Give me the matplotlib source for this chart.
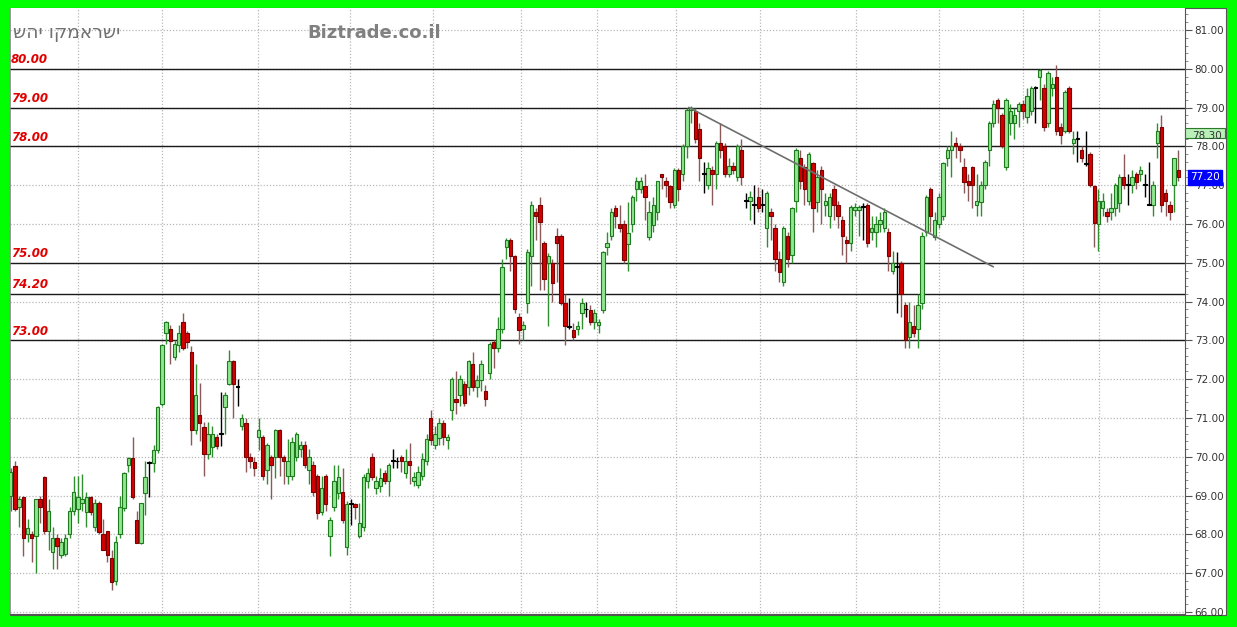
import numpy as np
import matplotlib.pyplot as plt
import matplotlib.transforms as mtransforms
from matplotlib.patches import Rectangle
from matplotlib.ticker import MultipleLocator, FormatStrFormatter

# daily candles (oldest first)
opens = [
    69.0, 69.75, 68.7, 68.97, 68.0, 68.0, 67.96, 68.9, 69.48, 68.1,
    67.55, 67.9, 67.47, 67.5, 68.0, 68.6, 68.65, 68.8, 68.57, 68.97,
    68.2, 68.8, 68.0, 68.08, 67.4, 66.8, 68.0, 68.68, 69.8, 69.97,
    68.37, 67.78, 69.07, 69.85, 69.84, 70.17, 71.36, 73.19, 73.3, 72.57,
    72.88, 73.47, 73.2, 72.7, 70.7, 71.08, 70.77,
    70.07, 70.26, 70.5, 70.6, 71.28, 71.88, 72.47, 71.82, 70.8, 70.87,
    70.0, 69.87, 70.5, 70.5, 69.66, 70.0, 70.0, 70.7, 70.0, 69.5,
    69.5, 70.0, 70.2, 70.3, 69.66, 69.8, 69.5, 68.58, 69.5, 67.96,
    68.7, 69.07, 69.1, 67.67, 68.8, 68.78, 67.96, 68.2, 69.38, 70.0,
    69.2, 69.25, 69.58, 69.38, 69.92, 69.88, 70.0, 69.58, 69.9, 69.38,
    69.28, 69.5, 69.9,
    71.0, 70.3, 70.48, 70.87, 70.43, 71.2, 71.5, 71.6, 71.88, 71.8,
    72.4, 71.8, 71.97, 71.7, 72.16, 72.96, 72.8, 73.3, 75.4, 75.6,
    75.17, 73.6, 73.3, 73.96, 75.17, 76.3, 76.5, 75.5, 75.0, 75.0,
    75.7, 75.7, 73.96, 73.35, 73.27, 73.3, 73.7, 73.82, 73.78, 73.47,
    73.4, 73.78,
    75.4, 75.7, 76.4, 76.0, 76.0, 75.48, 76.0, 76.9, 76.9, 76.98,
    75.67, 75.98, 76.3, 77.28, 77.1, 76.98, 76.5, 77.4, 77.3, 78.0,
    78.95, 78.9, 78.45, 77.32, 77.0, 77.4, 77.3, 78.1, 78.0, 77.3,
    77.5, 77.2, 77.9, 76.62, 76.6, 76.52, 76.7, 76.52, 75.9, 76.3,
    75.9, 75.1, 74.5, 75.7, 75.2, 76.6,
    77.7, 77.47, 76.6, 77.57, 76.56, 77.4, 76.5, 76.2, 76.9, 76.5,
    76.1, 75.6, 75.5, 76.35, 76.35, 76.47, 76.5, 75.8, 75.8, 76.0,
    75.9, 75.8, 74.8, 74.92, 75.0, 73.9, 73.08, 73.37, 73.3, 73.96,
    75.8, 76.9, 75.67, 76.0, 76.2, 77.7, 77.9, 78.1, 78.0, 77.47,
    77.1, 77.47, 76.5, 76.56, 77.0, 77.9,
    78.6, 79.2, 78.8, 77.47, 78.6, 78.6, 78.9, 79.1, 78.77, 78.9,
    79.52, 79.8, 79.5, 78.6, 79.5, 79.8, 78.5, 78.4, 79.5, 78.1,
    78.22, 77.9, 77.57, 77.8, 76.98, 76.0, 76.4, 76.3, 76.3, 76.4,
    76.55, 77.2, 77.02, 77.0, 77.3, 77.3, 77.02, 76.52, 76.5, 78.1,
    78.5, 76.8, 76.5, 77.0, 77.4,
]
highs = [
    69.7, 69.9, 69.0, 69.0, 68.4, 68.1, 68.9, 69.0, 69.5, 68.9,
    68.2, 68.0, 67.9, 68.0, 68.7, 69.5, 69.5, 69.55, 69.1, 69.0,
    68.9, 68.85, 68.4, 68.1, 67.6, 67.95, 69.0, 69.6, 70.0, 70.5,
    68.6, 68.8, 69.9, 69.9, 70.3, 71.3, 72.9, 73.5, 73.4, 73.0,
    73.4, 73.7, 73.25, 72.85, 72.4, 71.9, 70.9,
    70.9, 70.8, 70.6, 71.67, 71.67, 72.75, 72.5, 72.0, 71.1, 71.0,
    70.1, 70.0, 71.0, 70.55, 70.35, 70.05, 70.72, 70.72, 70.05, 70.45,
    70.5, 70.65, 70.4, 70.4, 70.2, 69.9, 69.55, 69.5, 69.55, 68.45,
    69.8, 69.8, 69.7, 68.85, 68.9, 68.8, 68.8, 69.55, 69.7, 70.1,
    69.5, 69.7, 69.65, 69.85, 70.2, 70.0, 70.05, 70.2, 70.35, 69.6,
    69.75, 70.1, 70.6,
    71.2, 70.8, 71.0, 70.95, 70.6, 72.05, 72.2, 72.1, 71.95, 72.5,
    72.7, 72.1, 72.5, 71.85, 72.95, 73.0, 73.6, 75.1, 75.65, 75.65,
    75.2, 73.7, 73.5, 75.35, 76.6, 76.4, 76.7, 75.55, 75.25, 75.1,
    75.9, 75.75, 74.2, 74.1, 73.45, 73.5, 74.1, 74.0, 73.9, 73.8,
    73.55, 75.3,
    75.8, 76.4, 76.5, 76.5, 76.1, 76.57, 76.75, 77.2, 77.2, 77.3,
    76.6, 76.7, 77.1, 77.3, 77.2, 77.0, 77.45, 77.45, 78.05, 79.0,
    79.05, 79.0, 78.6, 77.6, 77.6, 77.5, 78.15, 78.6, 78.1, 77.7,
    77.6, 78.05, 78.2, 76.8, 76.85, 77.0, 76.95, 76.9, 76.85, 76.4,
    76.0, 75.3, 75.95, 75.8, 76.45, 77.95,
    77.9, 77.55, 77.85, 77.6, 77.4, 77.5, 76.8, 76.8, 77.0, 76.6,
    76.2, 75.7, 76.5, 76.55, 76.5, 76.55, 76.55, 76.2, 76.2, 76.3,
    76.4, 75.9, 75.3, 75.28, 75.05, 74.0, 74.0, 73.9, 74.2, 75.8,
    76.75, 76.95, 76.3, 76.8, 77.6, 78.0, 78.4, 78.25, 78.1, 77.7,
    77.3, 77.5, 77.3, 77.1, 77.65, 78.65,
    79.2, 79.25, 78.85, 79.25, 79.1, 79.0, 79.15, 79.2, 79.5, 79.55,
    79.55, 80.0, 79.6, 79.95, 79.8, 80.1, 78.6, 79.45, 79.55, 78.4,
    78.4, 78.0, 78.4, 77.85, 77.0, 76.9, 76.8, 76.4, 76.8, 77.05,
    77.3, 77.8, 77.3, 77.4, 77.35, 77.5, 77.3, 77.6, 77.1, 78.6,
    78.8, 76.9, 76.6, 77.7, 77.9,
]
lows = [
    68.6, 68.6, 68.2, 67.45, 67.8, 67.3, 67.0, 68.3, 68.0, 67.6,
    67.1, 67.1, 67.4, 67.45, 67.9, 68.5, 68.3, 68.6, 68.2, 68.5,
    68.1, 68.0, 67.6, 67.3, 66.57, 66.7, 67.9, 68.6, 69.6, 68.9,
    67.78, 67.75, 68.5, 68.97, 69.6, 70.1, 71.3, 72.9, 72.4, 72.5,
    72.7, 72.75, 72.8, 70.3, 70.6, 70.4, 69.5,
    69.95, 70.0, 70.2, 70.28, 70.6, 71.85, 71.0, 71.3, 70.7, 69.6,
    69.7, 69.5, 70.17, 69.4, 69.3, 68.9, 69.45, 69.5, 69.3, 69.3,
    69.4, 69.9, 70.0, 69.7, 69.3, 69.0, 68.4, 68.5, 68.6, 67.45,
    68.6, 68.9, 68.3, 67.47, 68.25, 68.4, 67.9, 68.1, 69.2, 69.4,
    69.05, 69.1, 69.3, 69.0, 69.7, 69.7, 69.6, 69.45, 69.3, 69.25,
    69.2, 69.4, 69.8,
    70.3, 70.2, 70.3, 70.3, 70.2, 70.95, 71.1, 71.3, 71.3, 71.6,
    71.7, 71.55, 71.7, 71.3, 72.0, 72.3, 72.7, 73.2, 75.1, 74.8,
    73.7, 72.9, 73.0, 73.7, 74.4, 75.6, 74.3, 74.3, 73.37, 74.0,
    74.5, 73.9, 72.88, 73.3, 73.0, 73.15, 73.3, 73.6, 73.4, 73.3,
    73.2, 73.7,
    75.2, 75.6, 75.9, 75.8, 75.0, 74.8, 75.8, 76.6, 76.8, 76.1,
    75.6, 75.8, 76.1, 76.9, 76.7, 76.4, 76.4, 76.6, 77.1, 77.7,
    78.6, 78.1, 77.1, 76.8, 76.9, 76.5, 76.9, 77.7, 77.2, 77.2,
    77.3, 77.1, 77.0, 76.4, 76.1, 76.0, 76.3, 76.3, 75.4, 75.6,
    74.8, 74.5, 74.4, 74.9, 75.0, 76.3,
    76.9, 76.5, 76.5, 75.8, 76.3, 76.0, 76.2, 75.9, 76.1, 75.9,
    75.2, 75.0, 75.3, 76.2, 75.7, 75.6, 75.4, 75.6, 75.4, 75.8,
    75.8, 74.8, 74.7, 73.7, 73.6, 72.8, 72.8, 73.1, 72.8, 73.8,
    75.7, 75.8, 75.6, 75.9, 76.1, 77.5, 77.2, 77.7, 77.6, 76.8,
    76.6, 76.4, 76.2, 76.2, 76.9, 77.5,
    78.5, 78.6, 77.95, 77.4, 78.3, 78.2, 78.5, 78.7, 78.6, 78.8,
    78.6, 79.2, 78.4, 78.5, 79.3, 78.3, 78.05, 78.35, 78.35, 77.8,
    77.6, 77.6, 77.5, 76.95, 75.4, 75.3, 76.2, 76.05, 76.1, 76.2,
    76.3, 76.9, 76.5, 76.8, 76.9, 77.1, 76.7, 76.5, 76.2, 77.7,
    76.3, 76.2, 76.1, 76.3, 77.1,
]
closes = [
    69.6, 68.65, 68.9, 67.9, 68.17, 67.9, 68.9, 68.7, 68.08, 68.6,
    67.9, 67.7, 67.8, 67.9, 68.6, 69.1, 68.97, 68.9, 68.97, 68.57,
    68.8, 68.06, 67.6, 67.47, 66.77, 67.8, 68.7, 69.58, 69.97, 68.97,
    67.78, 68.8, 69.48, 69.87, 70.17, 71.28, 72.88, 73.47, 72.98, 72.9,
    73.2, 72.8, 72.96, 70.7, 71.6, 70.87, 70.07,
    70.6, 70.6, 70.28, 70.62, 71.6, 72.47, 71.88, 71.8, 71.0, 70.0,
    69.9, 69.7, 70.7, 69.5, 70.3, 69.8, 70.7, 70.0, 69.9, 69.9,
    70.38, 70.6, 70.3, 69.8, 70.0, 69.1, 68.55, 69.2, 68.78, 68.37,
    69.38, 69.48, 68.37, 68.78, 68.78, 68.7, 68.3, 69.48, 69.58, 69.48,
    69.38, 69.45, 69.38, 69.8, 69.9, 69.9, 69.9, 69.9, 69.8, 69.48,
    69.6, 69.95, 70.45,
    70.43, 70.6, 70.87, 70.5, 70.5, 72.0, 71.4, 72.0, 71.38, 72.47,
    71.8, 71.97, 72.4, 71.5, 72.9, 72.8, 73.3, 74.9, 75.6, 75.17,
    73.8, 73.27, 73.4, 75.28, 76.5, 76.2, 76.05, 74.58, 75.17, 74.48,
    75.5, 73.96, 73.37, 73.37, 73.1, 73.37, 73.96, 73.8, 73.47, 73.7,
    73.47, 75.28,
    75.5, 76.3, 76.2, 75.9, 75.07, 75.77, 76.7, 77.1, 77.1, 76.7,
    76.3, 76.5, 77.1, 77.2, 77.0, 76.57, 77.4, 76.9, 78.0, 78.94,
    79.0, 78.2, 77.7, 77.3, 77.45, 77.3, 78.1, 77.9, 77.3, 77.5,
    77.4, 78.0, 77.2, 76.6, 76.7, 76.5, 76.4, 76.5, 76.8, 76.2,
    75.1, 74.77, 75.9, 75.1, 76.4, 77.9,
    77.1, 76.9, 77.8, 76.4, 77.2, 76.9, 76.6, 76.7, 76.5, 76.2,
    75.7, 75.5, 76.45, 76.45, 76.45, 76.45, 75.5, 75.9, 76.0, 76.1,
    76.3, 75.17, 75.0, 74.9, 74.2, 73.0, 73.47, 73.2, 73.9, 75.7,
    76.7, 76.2, 76.1, 76.7, 77.57, 77.9, 78.0, 78.0, 77.9, 77.08,
    77.0, 77.0, 76.6, 77.0, 77.6, 78.6,
    79.1, 79.0, 78.0, 79.2, 78.9, 78.8, 79.1, 78.9, 79.3, 79.5,
    79.5, 79.97, 78.5, 79.9, 79.6, 78.4, 78.3, 79.4, 78.4, 78.2,
    78.2, 77.7, 77.55, 77.0, 76.03, 76.6, 76.6, 76.2, 76.4, 77.0,
    77.2, 77.0, 77.0, 77.2, 77.08, 77.4, 77.0, 76.5, 77.0, 78.4,
    76.5, 76.6, 76.3, 77.7, 77.2,
]

levels = [80.0, 79.0, 78.0, 75.0, 74.2, 73.0]
month_starts = [16.0, 36.0, 58.9, 80.8, 100.5, 121.4, 139.6, 158.4, 178.4, 201.3, 221.1, 241.1, 259.1]
trend_x = [161.5, 233.9]
trend_y = [79.0, 74.9]
ma_value = 78.35
ma_text = "78.30"
title_he = "ישראמקו יהש"
site = "Biztrade.co.il"

o = np.array(opens)
h = np.array(highs)
l = np.array(lows)
c = np.array(closes)
x = np.arange(len(o))

W, H = 1237, 627
fig = plt.figure(figsize=(W / 100, H / 100), dpi=100)
fig.patch.set_facecolor('#00FF00')
fig.add_artist(Rectangle((10 / W, 1 - 615 / H), 1216 / W, 607 / H,
                         transform=fig.transFigure, facecolor='white',
                         edgecolor='#555555', lw=0.8, zorder=0))

ax = fig.add_axes([10 / W, 1 - 614 / H, 1175 / W, 606 / H])
ax.set_facecolor('white')
ax.set_xlim(-0.17, 279.6)
ax.set_ylim(65.948, 81.567)

# grid
ax.set_yticks(np.arange(66, 82, 1))
ax.yaxis.set_minor_locator(MultipleLocator(0.2))
ax.yaxis.set_major_formatter(FormatStrFormatter('%.2f'))
ax.set_xticks(month_starts)
ax.grid(True, which='major', ls=(0, (1, 1.5)), color='#b8b8b8', lw=0.9, zorder=0)
ax.yaxis.tick_right()
ax.tick_params(axis='y', which='major', length=5, width=0.8, colors='#555555',
               labelcolor='#333333', labelsize=7.5, pad=2)
ax.tick_params(axis='y', which='minor', length=2.5, width=0.6, colors='#777777')
ax.tick_params(axis='x', length=0, labelbottom=False)
ax.spines['top'].set_visible(False)
ax.spines['left'].set_color('#888888')
ax.spines['left'].set_linewidth(0.6)
ax.spines['right'].set_color('#555555')
ax.spines['bottom'].set_color('#555555')

# support / resistance lines
lab_tr = mtransforms.blended_transform_factory(ax.transAxes, ax.transData)
for v in levels:
    ax.axhline(v, color='#1a1a1a', lw=1.0, zorder=2)
    ax.text(0.001, v + 0.23, f"{v:.2f}", transform=lab_tr, color='#e00000',
            fontsize=8.5, fontweight='bold', fontstyle='italic', va='center', ha='left', zorder=6)

# candles
up = c - o >= 0.03
down = o - c >= 0.03
doji = ~(up | down)
wick_col = np.where(up, '#2f8f2f', np.where(down, '#8a5a5a', '#000000'))
ax.vlines(x, l, h, colors=wick_col, lw=1.0, zorder=3)
bottom = np.minimum(o, c)
height = np.maximum(np.abs(c - o), 0.02)
ax.bar(x[up], height[up], bottom=bottom[up], width=0.8, color='#8fe88f',
       edgecolor='#1f7a1f', lw=0.8, zorder=4)
ax.bar(x[down], height[down], bottom=bottom[down], width=0.8, color='#d40000',
       edgecolor='#7a0000', lw=0.8, zorder=4)
ax.bar(x[doji], height[doji], bottom=bottom[doji], width=0.9, color='#000000',
       edgecolor='#000000', lw=0.8, zorder=4)

# trend line
ax.plot(trend_x, trend_y, color='#6e6e6e', lw=1.2, zorder=5)

# price markers on the scale
box = Rectangle((1.0, ma_value - 0.13), 0.034, 0.26, transform=lab_tr,
                facecolor='#b8f0b8', edgecolor='#2a7a2a', lw=0.8, clip_on=False, zorder=7)
ax.add_patch(box)
t = ax.text(1.006, ma_value - 0.08, ma_text, transform=lab_tr,
            fontsize=7.5, color='#333333', va='center', ha='left', zorder=8)
t.set_clip_path(box)
ax.text(1.004, c[-1], f"{c[-1]:.2f}", transform=lab_tr, fontsize=7.5, color='white',
        va='center', ha='left', zorder=8,
        bbox=dict(boxstyle='square,pad=0.2', fc='#0000ff', ec='#0000ff'))

# titles
fig.text(13 / W, 1 - 33 / H, title_he[::-1], fontsize=13.5, color='#707070',
         va='center', ha='left', family='DejaVu Sans')
fig.text(307 / W, 1 - 33 / H, site, fontsize=13, fontweight='bold', color='#808080',
         va='center', ha='left', family='DejaVu Sans')

fig.savefig('out.png', dpi=100, facecolor=fig.get_facecolor())
